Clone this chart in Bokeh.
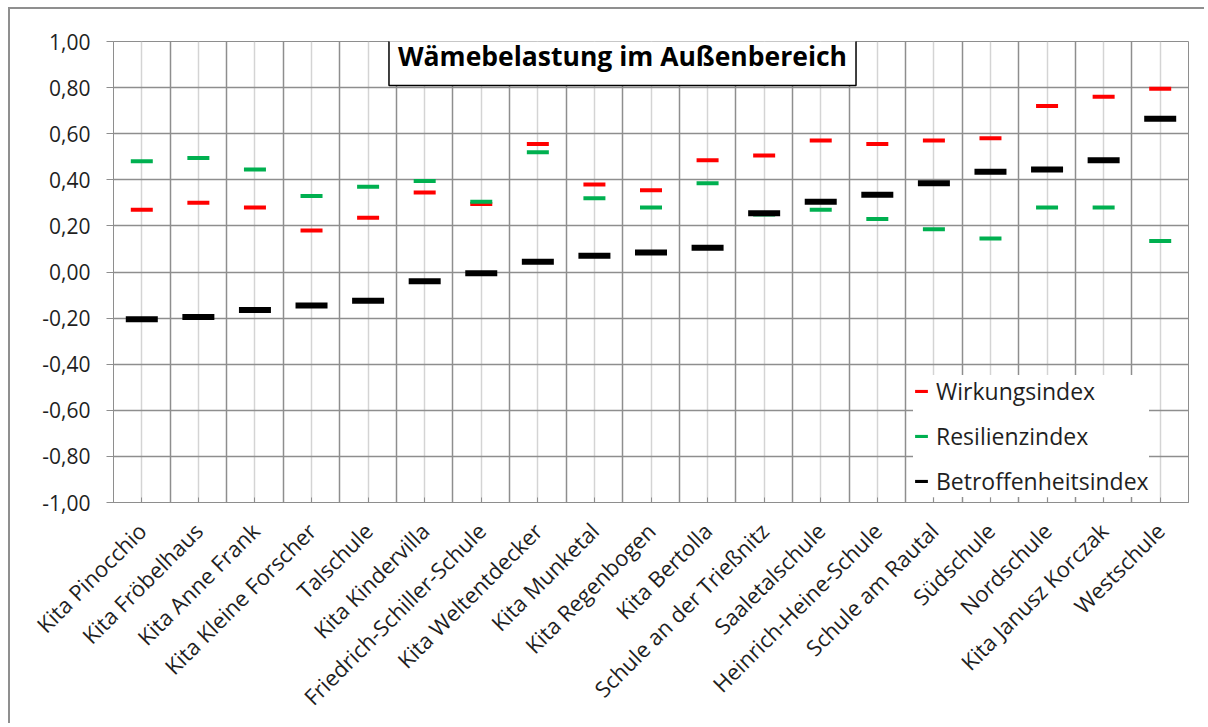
from bokeh.plotting import figure
from bokeh.models import (FixedTicker, CustomJSTickFormatter, Legend, LegendItem,
                          Label, ColumnDataSource)
from bokeh.embed import file_html
from bokeh.resources import INLINE

categories = ["Kita Pinocchio", "Kita Fröbelhaus", "Kita Anne Frank", "Kita Kleine Forscher",
              "Talschule", "Kita Kindervilla", "Friedrich-Schiller-Schule", "Kita Weltentdecker",
              "Kita Munketal", "Kita Regenbogen", "Kita Bertolla", "Schule an der Trießnitz",
              "Saaletalschule", "Heinrich-Heine-Schule", "Schule am Rautal", "Südschule",
              "Nordschule", "Kita Janusz Korczak", "Westschule"]
wirkungsindex = [0.27, 0.30, 0.28, 0.18, 0.235, 0.345, 0.295, 0.555, 0.38, 0.355, 0.485,
                 0.505, 0.57, 0.555, 0.57, 0.58, 0.72, 0.76, 0.795]
resilienzindex = [0.48, 0.495, 0.445, 0.33, 0.37, 0.395, 0.305, 0.52, 0.32, 0.28, 0.385,
                  0.25, 0.27, 0.23, 0.185, 0.145, 0.28, 0.28, 0.135]
betroffenheitsindex = [-0.205, -0.195, -0.165, -0.145, -0.125, -0.04, -0.005, 0.045, 0.07,
                       0.085, 0.105, 0.255, 0.305, 0.335, 0.385, 0.435, 0.445, 0.485, 0.665]
y_ticks = [-1.0, -0.8, -0.6, -0.4, -0.2, 0.0, 0.2, 0.4, 0.6, 0.8, 1.0]
title_text = "Wämebelastung im Außenbereich"

FONT = "Open Sans"
TXT = "#1f1f1f"
GRID = "#8e8e8e"
LIGHT = "#d4d4d4"

n = len(categories)
xs = [i + 0.5 for i in range(n)]
bounds = [float(i) for i in range(n + 1)]

src = ColumnDataSource(dict(x=xs, w=wirkungsindex, r=resilienzindex, b=betroffenheitsindex))

p = figure(width=1196, height=716, output_backend="svg", toolbar_location=None,
           x_range=(0, n), y_range=(-1, 1),
           min_border_left=103, min_border_right=18, min_border_top=32, min_border_bottom=223,
           styles={"margin-left": "10px", "margin-top": "9px",
                   "box-shadow": "-2px -2px 0px 0px #8f8f8f"})
p.background_fill_color = "white"
p.border_fill_color = "white"
p.outline_line_color = GRID

# x axis
xt = FixedTicker(ticks=xs, minor_ticks=bounds)
p.xaxis.ticker = xt
p.xaxis.major_label_overrides = {x: c for x, c in zip(xs, categories)}
p.xaxis.major_label_orientation = 0.785398
p.xaxis.major_label_text_font = FONT
p.xaxis.major_label_text_font_size = "22px"
p.xaxis.major_label_text_color = TXT
p.xaxis.major_label_standoff = 24
p.xaxis.axis_line_color = GRID
p.xaxis.major_tick_in = 5
p.xaxis.major_tick_out = 0
p.xaxis.minor_tick_in = 5
p.xaxis.minor_tick_out = 0
p.xaxis.major_tick_line_color = GRID
p.xaxis.minor_tick_line_color = GRID

# y axis
p.yaxis.ticker = FixedTicker(ticks=y_ticks)
p.yaxis.formatter = CustomJSTickFormatter(code="return tick.toFixed(2).replace('.', ',');")
p.yaxis.major_label_text_font = FONT
p.yaxis.major_label_text_font_size = "21px"
p.yaxis.major_label_text_color = TXT
p.yaxis.major_label_standoff = 16
p.yaxis.axis_line_color = GRID
p.yaxis.major_tick_in = 0
p.yaxis.major_tick_out = 7
p.yaxis.major_tick_line_color = GRID
p.yaxis.minor_tick_line_color = None

# grids
p.xgrid.ticker = xt
p.xgrid.grid_line_color = LIGHT
p.xgrid.grid_line_width = 1.5
p.xgrid.minor_grid_line_color = GRID
p.xgrid.minor_grid_line_width = 1.5
p.ygrid.grid_line_color = GRID
p.ygrid.grid_line_width = 1.5

rw = p.rect(x="x", y="w", width=22, height=4, width_units="screen", height_units="screen",
            source=src, fill_color="#ff0000", line_color=None)
rr = p.rect(x="x", y="r", width=22, height=4, width_units="screen", height_units="screen",
            source=src, fill_color="#00b050", line_color=None)
rb = p.rect(x="x", y="b", width=32, height=6, width_units="screen", height_units="screen",
            source=src, fill_color="#000000", line_color=None)

legend = Legend(items=[LegendItem(label="Wirkungsindex", renderers=[rw]),
                       LegendItem(label="Resilienzindex", renderers=[rr]),
                       LegendItem(label="Betroffenheitsindex", renderers=[rb])],
                location=(800, 5), orientation="vertical")
legend.label_text_font = FONT
legend.label_text_font_size = "23px"
legend.label_text_color = TXT
legend.glyph_width = 16
legend.glyph_height = 4
legend.label_height = 30
legend.spacing = 13
legend.padding = 8
legend.margin = 0
legend.label_standoff = 7
legend.border_line_color = None
legend.background_fill_color = "white"
legend.background_fill_alpha = 1.0
p.add_layout(legend, "center")

title = Label(x=509, y=447, x_units="screen", y_units="screen", text=title_text,
              text_align="center", text_baseline="middle",
              text_font=FONT, text_font_size="26.5px", text_font_style="bold",
              text_color="#000000",
              background_fill_color="white", background_fill_alpha=1.0,
              border_line_color="#000000", border_line_width=1.5,
              padding=dict(left=9, right=9, top=12, bottom=12))
p.add_layout(title)

open("out.html", "w").write(file_html(p, INLINE))
